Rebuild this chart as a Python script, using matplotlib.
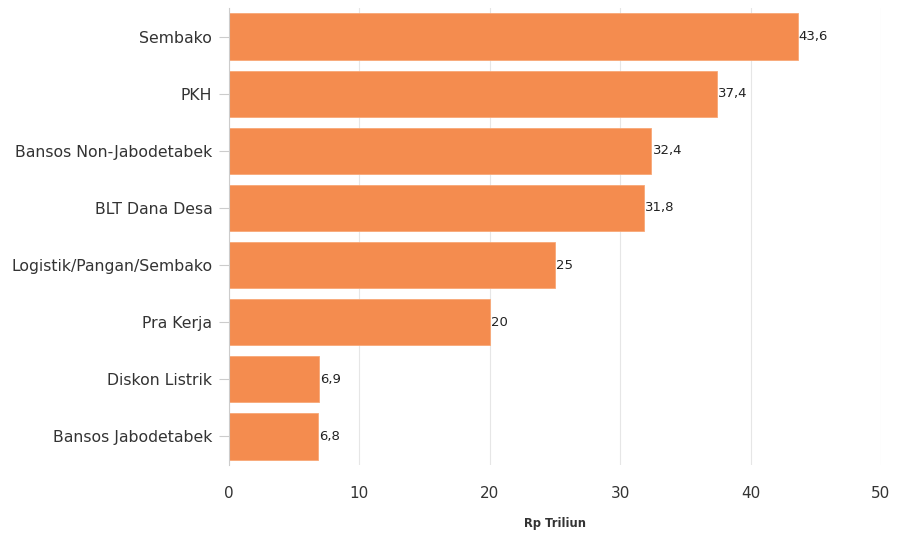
import matplotlib.pyplot as plt

categories = ['Sembako', 'PKH', 'Bansos Non-Jabodetabek', 'BLT Dana Desa',
              'Logistik/Pangan/Sembako', 'Pra Kerja', 'Diskon Listrik',
              'Bansos Jabodetabek']
values = [43.6, 37.4, 32.4, 31.8, 25, 20, 6.9, 6.8]
value_labels = ['43,6', '37,4', '32,4', '31,8', '25', '20', '6,9', '6,8']
x_ticks = [0, 10, 20, 30, 40, 50]

fig = plt.figure(figsize=(9.03, 5.49), dpi=100)
ax = fig.add_axes([229 / 903, 1 - 465 / 549, 652 / 903, 457 / 549])

pos = list(range(len(categories)))
ax.barh(pos, values, height=0.81, color='#f48c4f', edgecolor='#f8a877',
        linewidth=0.6, zorder=2)
for p, v, lab in zip(pos, values, value_labels):
    ax.text(v + 0.1, p, lab, va='center', ha='left', fontsize=9.5,
            color='#222222')

ax.set_xlim(0, 50)
ax.set_ylim(len(categories) - 0.5, -0.5)
ax.set_yticks(pos)
ax.set_yticklabels(categories, fontsize=11.3, color='#333333')
ax.set_xticks(x_ticks)
ax.set_xticklabels([str(t) for t in x_ticks], fontsize=11, color='#333333')
ax.tick_params(axis='x', length=0, pad=15)
ax.tick_params(axis='y', length=7, color='#cccccc', width=0.8, pad=5)
ax.grid(axis='x', color='#e6e6e6', linewidth=0.8, zorder=0)
for s in ['top', 'right', 'bottom']:
    ax.spines[s].set_visible(False)
ax.spines['left'].set_color('#cccccc')
ax.spines['left'].set_linewidth(0.8)
ax.set_xlabel('Rp Triliun', fontsize=8.3, fontweight='bold', color='#333333',
              labelpad=12)

fig.savefig('out.png', dpi=100)
